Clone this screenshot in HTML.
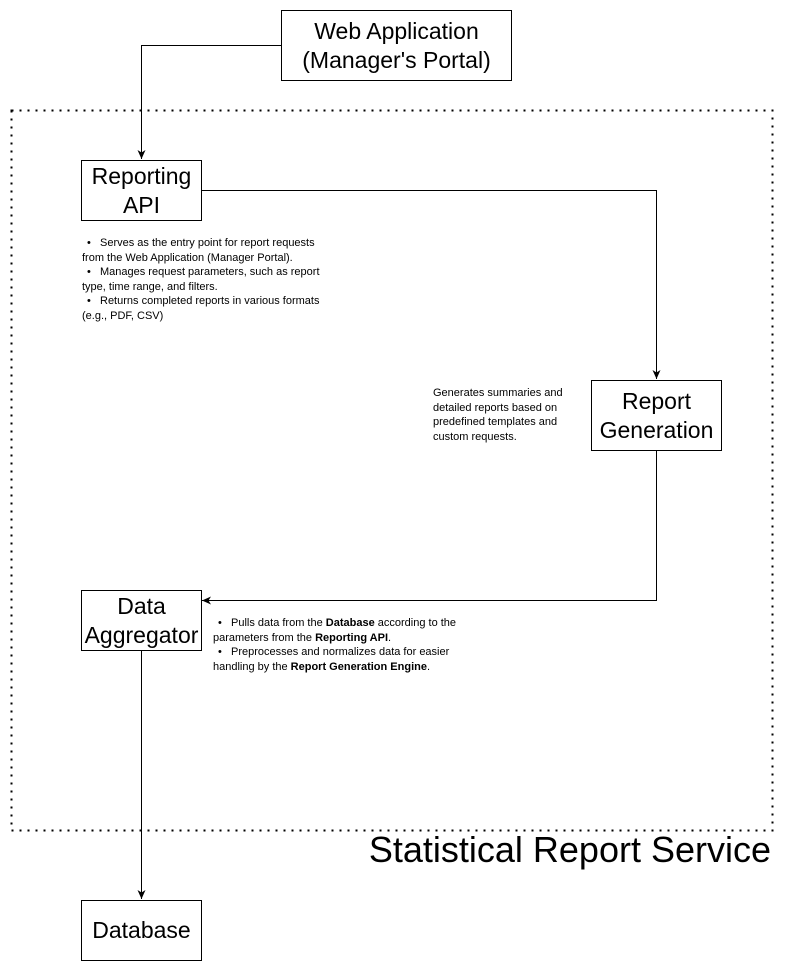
<!DOCTYPE html>
<html><head><meta charset="utf-8"><style>
body{margin:0;width:791px;height:971px;background:#fff;position:relative;font-family:"Liberation Sans",Arial,sans-serif;overflow:hidden}
.box{position:absolute;border:1px solid #000;background:#fff;box-sizing:border-box;display:flex;align-items:center;justify-content:center;text-align:center;font-size:23px;line-height:29px;color:#000}
.t{position:absolute;font-size:11px;line-height:14.5px;color:#000}
.t b{font-weight:bold;color:#000}
.bl{display:inline-block;margin-left:5px;width:13px}
</style></head><body>
<svg width="791" height="971" style="position:absolute;left:0;top:0">
<defs><marker id="a" markerWidth="10" markerHeight="10" refX="9" refY="4.5" orient="auto" markerUnits="userSpaceOnUse"><path d="M0,0.5 L9,4.5 L0,8.5 L2.5,4.5 Z" fill="#000"/></marker></defs>
<rect x="11.5" y="110.5" width="761" height="720" fill="none" stroke="#000" stroke-width="2" stroke-dasharray="2,6"/>
<path d="M281,45.5 H141.5 V159" fill="none" stroke="#000" marker-end="url(#a)"/>
<path d="M201,190.5 H656.5 V379" fill="none" stroke="#000" marker-end="url(#a)"/>
<path d="M656.5,450 V600.5 H202" fill="none" stroke="#000" marker-end="url(#a)"/>
<path d="M141.5,650 V899" fill="none" stroke="#000" marker-end="url(#a)"/>
</svg>
<div class="box" style="left:281px;top:10px;width:231px;height:71px">Web Application<br>(Manager's Portal)</div>
<div class="box" style="left:81px;top:160px;width:121px;height:61px">Reporting<br>API</div>
<div class="box" style="left:591px;top:380px;width:131px;height:71px">Report<br>Generation</div>
<div class="box" style="left:81px;top:590px;width:121px;height:61px;white-space:nowrap">Data<br>Aggregator</div>
<div class="box" style="left:81px;top:900px;width:121px;height:61px">Database</div>
<div class="t" style="left:82px;top:236px;width:252px"><span class="bl">•</span>Serves as the entry point for report requests from the Web Application (Manager Portal).<br><span class="bl">•</span>Manages request parameters, such as report type, time range, and filters.<br><span class="bl">•</span>Returns completed reports in various formats (e.g., PDF, CSV)</div>
<div class="t" style="left:433px;top:386px;width:150px">Generates summaries and detailed reports based on predefined templates and custom requests.</div>
<div class="t" style="left:213px;top:616px;width:268px"><span class="bl">•</span>Pulls data from the <b>Database</b> according to the parameters from the <b>Reporting API</b>.<br><span class="bl">•</span>Preprocesses and normalizes data for easier handling by the <b>Report Generation Engine</b>.</div>
<div style="position:absolute;right:20px;top:829px;font-size:36px;line-height:42px;color:#000;white-space:nowrap">Statistical Report Service</div>
</body></html>
